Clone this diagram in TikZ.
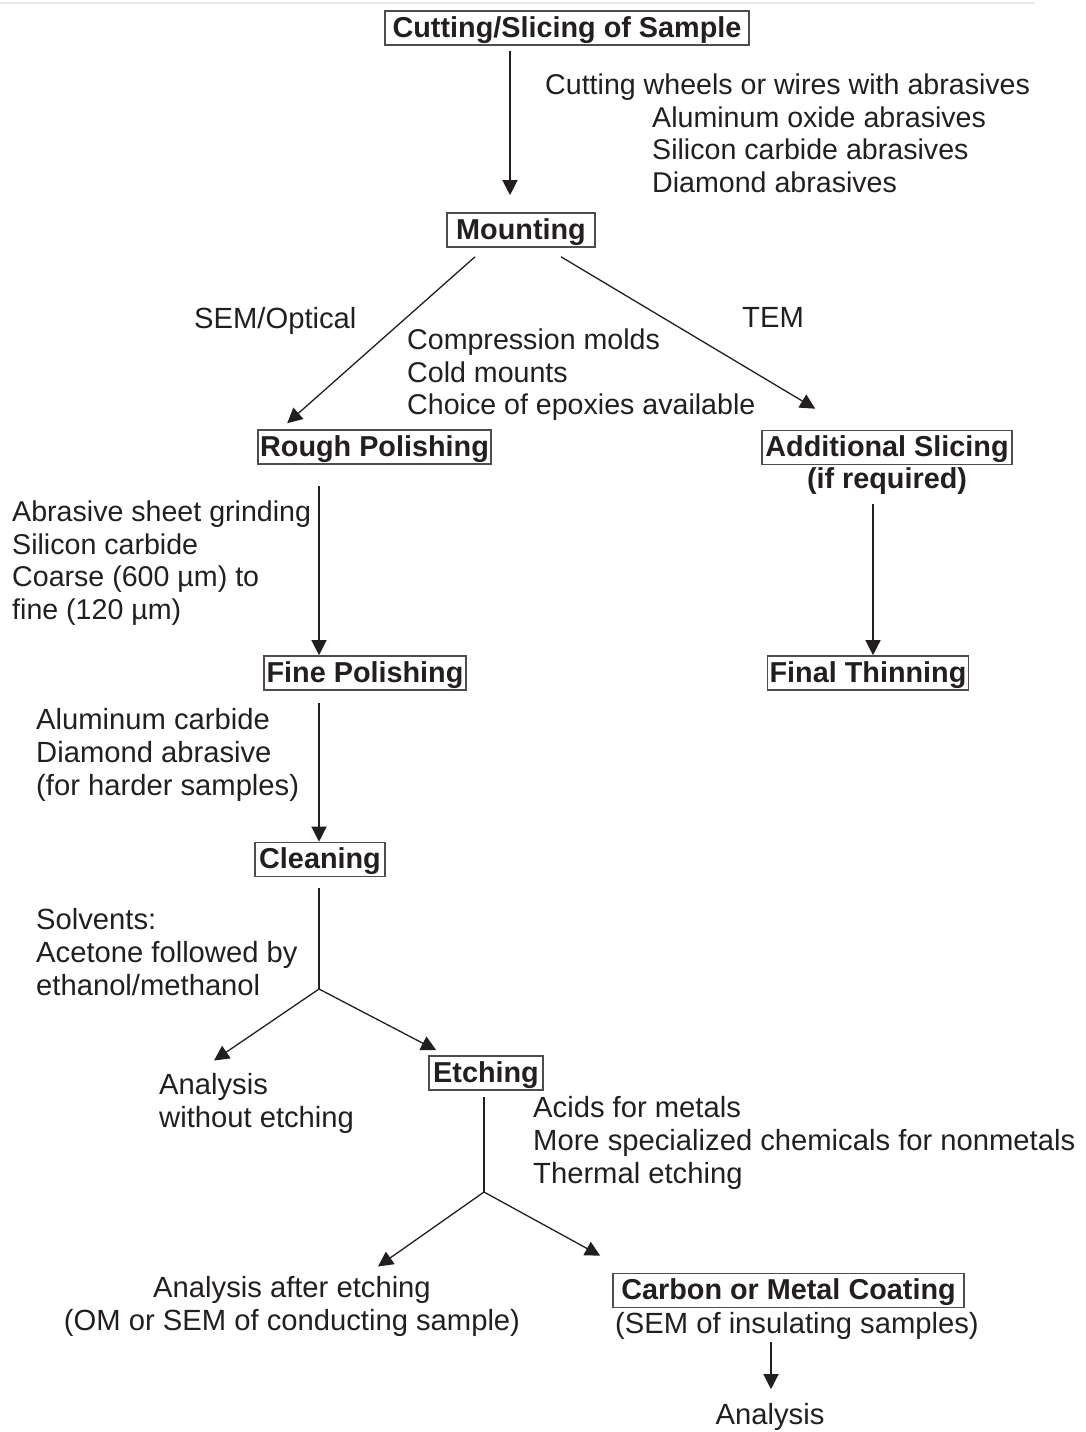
\documentclass[tikz,border=0pt]{standalone}
\usepackage{fontspec}
\setmainfont{Liberation Sans}
\usetikzlibrary{arrows.meta,calc}
\definecolor{ink}{HTML}{231F20}
\definecolor{frame}{HTML}{4D4D4D}
\definecolor{rulegray}{HTML}{E8E8E8}
\begin{document}
\begin{tikzpicture}[x=1pt,y=-1pt,
  every node/.style={font=\fontsize{29.2}{32.7}\selectfont, text=ink},
  stage/.style={draw=frame, line width=1.6pt,
    font=\fontsize{28.8}{32.7}\selectfont\bfseries,
    inner xsep=2pt, inner ysep=0pt, text height=22.5pt, text depth=4.5pt,
    minimum height=34pt},
  note/.style={align=left, anchor=north west, inner sep=0pt},
  tightnote/.style={note, font=\fontsize{28.6}{32.7}\selectfont},
  link/.style={draw=ink, line width=1.3pt},
  arr/.style={link, -{Triangle[length=15pt,width=15pt]}}]

\useasboundingbox (0,0) rectangle (1085,1432);
\draw[rulegray, line width=2pt] (0,2.5) -- (1035,2.5);

% process stages
\node[stage, minimum width=364pt] (cut)   at (567,28)     {Cutting/Slicing of Sample};
\node[stage, minimum width=148pt] (mount) at (521,230)    {Mounting};
\node[stage, minimum width=233pt] (rough) at (374.5,447)  {Rough Polishing};
\node[stage, minimum width=250pt] (addsl) at (887,447.5)  {Additional Slicing};
\node[font=\fontsize{28.8}{32.7}\selectfont\bfseries, inner sep=0pt] (ifreq) at (887,481) {(if required)};
\node[stage, minimum width=202pt] (fine)  at (365,673)    {Fine Polishing};
\node[stage, minimum width=200pt] (final) at (868,673)    {Final Thinning};
\node[stage, minimum width=130pt] (clean) at (320,859.5)  {Cleaning};
\node[stage, minimum width=114pt] (etch)  at (486,1073)   {Etching};
\node[stage, minimum width=351pt] (coat)  at (788.5,1290.5) {Carbon or Metal Coating};

% notes
\node[tightnote] (cutnote) at (545,73.5) {Cutting wheels or wires with abrasives\\
  \hspace*{107pt}Aluminum oxide abrasives\\
  \hspace*{107pt}Silicon carbide abrasives\\
  \hspace*{107pt}Diamond abrasives};
\node[note] (sem)   at (194,307.5) {SEM/Optical};
\node[note] (tem)   at (742,307.5) {TEM};
\node[tightnote] (molds) at (407,328.5) {Compression molds\\Cold mounts\\Choice of epoxies available};
\node[tightnote] (grind) at (12,500.5)  {Abrasive sheet grinding\\Silicon carbide\\Coarse (600 µm) to\\fine (120 µm)};
\node[note] (finenote) at (36,708.5) {Aluminum carbide\\Diamond abrasive\\(for harder samples)};
\node[note] (solv)  at (36,908.5)  {Solvents:\\Acetone followed by\\ethanol/methanol};
\node[note] (an1)   at (159,1073.5) {Analysis\\without etching};
\node[note] (acids) at (533,1096.5) {Acids for metals\\More specialized chemicals for nonmetals\\Thermal etching};
\node[align=center, anchor=north, inner sep=0pt] (an2) at (292,1276.5)
  {Analysis after etching\\(OM or SEM of conducting sample)};
\node[note] (insul) at (615,1312.5) {(SEM of insulating samples)};
\node[inner sep=0pt] (an3) at (770,1417) {Analysis};

% connectors
\draw[arr] ([shift={(-57,5)}]cut.south) -- ([shift={(-11,-17)}]mount.north);
\draw[arr] ([shift={(-46,9)}]mount.south) -- ([shift={(30,-6)}]rough.north west);
\draw[arr] ([shift={(40,9)}]mount.south) -- ([shift={(54,-21)}]addsl.north west);
\draw[arr] ([shift={(-55.5,21)}]rough.south) -- ([shift={(-46,0)}]fine.north);
\draw[arr] ([shift={(-14,9)}]ifreq.south) -- ([shift={(5,0)}]final.north);
\draw[arr] ([shift={(-46,12)}]fine.south) -- ([shift={(-1,0)}]clean.north);

\coordinate (split1) at (319,989);
\draw[link] ([shift={(-1,11)}]clean.south) -- (split1);
\draw[arr] (split1) -- ([shift={(55,-13)}]an1.north west);
\draw[arr] (split1) -- ([shift={(8,-5)}]etch.north west);

\coordinate (split2) at (484,1192);
\draw[link] ([shift={(-2,6)}]etch.south) -- (split2);
\draw[arr] (split2) -- ([shift={(86,-10)}]an2.north);
\draw[arr] (split2) -- ([shift={(-12,-17)}]coat.north west);

\draw[arr] ($(insul.south -| an3.north)+(1,2)$) -- ($(an3.north)+(1,-14)$);
\end{tikzpicture}
\end{document}
